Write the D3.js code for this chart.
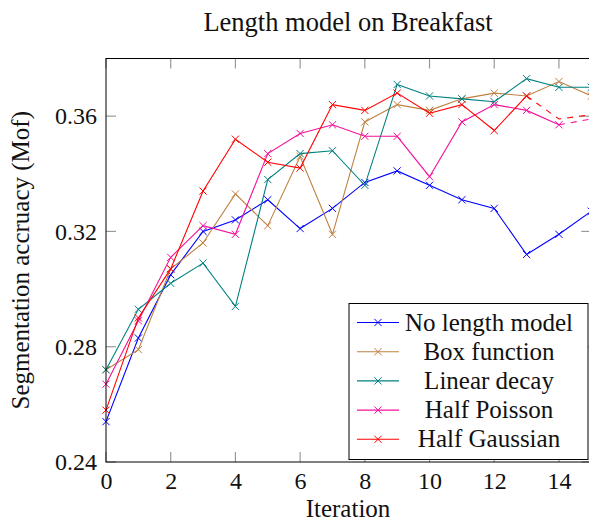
<!DOCTYPE html>
<html>
<head>
<meta charset="utf-8">
<script src="https://cdn.jsdelivr.net/npm/d3@7"></script>
<style>
    body { margin: 0; background: #fff; }
    svg { display: block; font-family: "Liberation Serif", "Times New Roman", serif; }
    .tick-label { font-size: 24px; fill: #111; }
    .lbl { font-size: 25px; fill: #111; }
    .ttl { font-size: 26.5px; fill: #111; }
</style>
</head>
<body>
<svg id="chart" width="589" height="523"></svg>
<script>
var iterations = [0, 1, 2, 3, 4, 5, 6, 7, 8, 9, 10, 11, 12, 13, 14, 15];
var xTicks = [0, 2, 4, 6, 8, 10, 12, 14];
var yTicks = [0.24, 0.28, 0.32, 0.36];

var seriesNames = ["No length model", "Box function", "Linear decay", "Half Poisson", "Half Gaussian"];
var seriesColors = ["#0000ff", "#bf8040", "#008080", "#f5109a", "#ff0000"];

var noLength = [0.254, 0.283, 0.305, 0.320, 0.324, 0.331, 0.321, 0.328, 0.337, 0.341, 0.336, 0.331, 0.328, 0.312, 0.319, 0.327];
var boxFunction = [0.272, 0.279, 0.307, 0.316, 0.333, 0.322, 0.346, 0.319, 0.358, 0.364, 0.362, 0.366, 0.368, 0.367, 0.372, 0.367];
var linearDecay = [0.272, 0.293, 0.302, 0.309, 0.294, 0.338, 0.347, 0.348, 0.336, 0.371, 0.367, 0.366, 0.365, 0.373, 0.370, 0.370];
var halfPoisson = [0.267, 0.289, 0.311, 0.322, 0.319, 0.347, 0.354, 0.357, 0.353, 0.353, 0.339, 0.358, 0.364, 0.362, 0.357];
var halfGaussian = [0.258, 0.290, 0.307, 0.334, 0.352, 0.344, 0.342, 0.364, 0.362, 0.368, 0.361, 0.364, 0.355, 0.367];

// dashed tails (no marks), [iteration, value]
var poissonTail = [[14, 0.357], [15, 0.359]];
var gaussianTail = [[13, 0.367], [14, 0.359], [15, 0.3605]];

(function () {
    "use strict";

    var svg = d3.select('#chart');
    var left = 106, right = 591.3, top = 58.5, bottom = 462;

    var x = d3.scaleLinear().domain([0, 15]).range([left, right]);
    var y = d3.scaleLinear().domain([0.24, 0.38]).range([bottom, top]);

    var allSeries = [noLength, boxFunction, linearDecay, halfPoisson, halfGaussian];

    // title + axis labels
    svg.append('text').attr('class', 'ttl')
        .attr('x', 348).attr('y', 30.5)
        .attr('text-anchor', 'middle')
        .text('Length model on Breakfast');

    svg.append('text').attr('class', 'lbl')
        .attr('x', 348).attr('y', 517)
        .attr('text-anchor', 'middle')
        .text('Iteration');

    svg.append('text').attr('class', 'lbl')
        .attr('transform', 'translate(29,' + ((top + bottom) / 2) + ') rotate(-90)')
        .attr('text-anchor', 'middle')
        .text('Segmentation accruacy (Mof)');

    // ticks on all four sides, pointing inward
    var tickLen = 10;
    var $ticks = svg.append('g').attr('stroke', '#999').attr('stroke-width', 1.2);
    xTicks.forEach(function (t) {
        $ticks.append('line').attr('x1', x(t)).attr('x2', x(t)).attr('y1', bottom).attr('y2', bottom - tickLen);
        $ticks.append('line').attr('x1', x(t)).attr('x2', x(t)).attr('y1', top).attr('y2', top + tickLen);
    });
    yTicks.forEach(function (t) {
        $ticks.append('line').attr('x1', left).attr('x2', left + tickLen).attr('y1', y(t)).attr('y2', y(t));
        $ticks.append('line').attr('x1', right).attr('x2', right - tickLen).attr('y1', y(t)).attr('y2', y(t));
    });

    var xAxis = d3.axisBottom(x).tickValues(xTicks).tickSize(0).tickPadding(10).tickFormat(d3.format('d'));
    var $xAxis = svg.append('g').attr('transform', 'translate(0,' + bottom + ')').call(xAxis)
        .attr('font-family', null).attr('font-size', null);
    $xAxis.select('.domain').remove();
    $xAxis.selectAll('text').attr('class', 'tick-label').attr('fill', null).attr('dy', '0.71em');

    var yAxis = d3.axisLeft(y).tickValues(yTicks).tickSize(0).tickPadding(9).tickFormat(d3.format('.2f'));
    var $yAxis = svg.append('g').attr('transform', 'translate(' + left + ',0)').call(yAxis)
        .attr('font-family', null).attr('font-size', null);
    $yAxis.select('.domain').remove();
    $yAxis.selectAll('text').attr('class', 'tick-label').attr('fill', null);

    // series
    var line = d3.line()
        .x(function (d, i) { return x(iterations[i]); })
        .y(function (d) { return y(d); });
    var tailLine = d3.line()
        .x(function (d) { return x(d[0]); })
        .y(function (d) { return y(d[1]); });

    var drawCross = function ($g, cx, cy, color, r) {
        $g.append('path')
            .attr('d', 'M' + (cx - r) + ',' + (cy - r) + 'L' + (cx + r) + ',' + (cy + r) +
                'M' + (cx - r) + ',' + (cy + r) + 'L' + (cx + r) + ',' + (cy - r))
            .attr('stroke', color).attr('stroke-width', 1).attr('fill', 'none');
    };

    var $plot = svg.append('g');
    allSeries.forEach(function (vals, k) {
        var color = seriesColors[k];
        var $s = $plot.append('g');
        $s.append('path').datum(vals)
            .attr('d', line)
            .attr('fill', 'none').attr('stroke', color).attr('stroke-width', 1.1);
        vals.forEach(function (v, i) {
            drawCross($s, x(iterations[i]), y(v), color, 3.6);
        });
    });

    [[poissonTail, 3], [gaussianTail, 4]].forEach(function (t) {
        $plot.append('path').datum(t[0])
            .attr('d', tailLine)
            .attr('fill', 'none').attr('stroke', seriesColors[t[1]])
            .attr('stroke-width', 1.1).attr('stroke-dasharray', '6,6');
    });

    // frame
    svg.append('rect')
        .attr('x', left).attr('y', top)
        .attr('width', right - left).attr('height', bottom - top)
        .attr('fill', 'none').attr('stroke', '#000').attr('stroke-width', 1);

    // legend (south east)
    var lx = 349, ly = 303.5, lw = 239, lh = 156;
    var $legend = svg.append('g');
    $legend.append('rect')
        .attr('x', lx).attr('y', ly).attr('width', lw).attr('height', lh)
        .attr('fill', '#fff').attr('stroke', '#000').attr('stroke-width', 1);
    seriesNames.forEach(function (name, k) {
        var ey = 322.5 + k * 29.2;
        $legend.append('line')
            .attr('x1', 357).attr('x2', 399).attr('y1', ey).attr('y2', ey)
            .attr('stroke', seriesColors[k]).attr('stroke-width', 1.1);
        drawCross($legend, 378, ey, seriesColors[k], 3.6);
        $legend.append('text').attr('class', 'lbl')
            .attr('x', 489).attr('y', ey + 8)
            .attr('text-anchor', 'middle')
            .text(name);
    });
})();
</script>
</body>
</html>
